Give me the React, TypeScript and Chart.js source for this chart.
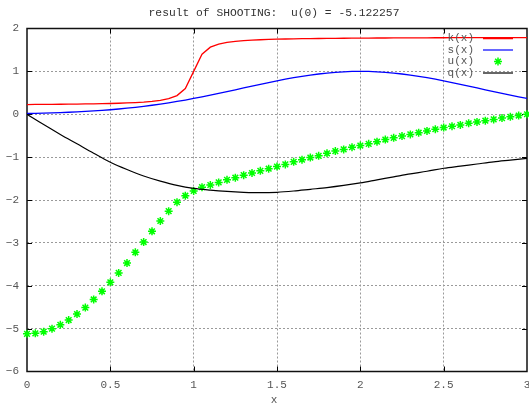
import React, { useEffect, useRef } from 'react';
import { Chart, registerables } from 'chart.js';

Chart.register(...registerables);

const TITLE = 'result of SHOOTING:  u(0) = -5.122257';
const X_LABEL = 'x';
const SERIES_NAMES = ['k(x)', 's(x)', 'u(x)', 'q(x)'];
const SERIES_COLORS = ['#ff0000', '#0000ff', '#00ff00', '#000000'];

const X_TICKS = [0, 0.5, 1, 1.5, 2, 2.5, 3];
const X_TICK_LABELS = ['0', '0.5', '1', '1.5', '2', '2.5', '3'];

const xFine = [
  0, 0.05, 0.1, 0.15, 0.2, 0.25, 0.3, 0.35, 0.4, 0.45,
  0.5, 0.55, 0.6, 0.65, 0.7, 0.75, 0.8, 0.85, 0.9, 0.95,
  1.0, 1.05, 1.1, 1.15, 1.2, 1.25, 1.3, 1.35, 1.4, 1.45,
  1.5, 1.55, 1.6, 1.65, 1.7, 1.75, 1.8, 1.85, 1.9, 1.95,
  2.0, 2.05, 2.1, 2.15, 2.2, 2.25, 2.3, 2.35, 2.4, 2.45,
  2.5, 2.55, 2.6, 2.65, 2.7, 2.75, 2.8, 2.85, 2.9, 2.95, 3.0,
];

const kValues = [
  0.226, 0.228, 0.229, 0.231, 0.233, 0.235, 0.237, 0.240, 0.243, 0.247,
  0.251, 0.256, 0.263, 0.272, 0.284, 0.301, 0.325, 0.364, 0.436, 0.600,
  1.000, 1.401, 1.565, 1.637, 1.676, 1.700, 1.717, 1.729, 1.738, 1.745,
  1.750, 1.755, 1.759, 1.762, 1.765, 1.767, 1.769, 1.771, 1.773, 1.774,
  1.776, 1.777, 1.778, 1.779, 1.780, 1.781, 1.782, 1.782, 1.783, 1.784,
  1.784, 1.785, 1.785, 1.786, 1.786, 1.787, 1.787, 1.787, 1.788, 1.788, 1.788,
];

const sValues = [
  0.018, 0.022, 0.027, 0.033, 0.039, 0.047, 0.056, 0.066, 0.077, 0.091,
  0.105, 0.122, 0.141, 0.162, 0.185, 0.210, 0.237, 0.267, 0.298, 0.332,
  0.368, 0.406, 0.445, 0.486, 0.527, 0.570, 0.613, 0.655, 0.698, 0.739,
  0.779, 0.817, 0.852, 0.885, 0.914, 0.939, 0.961, 0.978, 0.990, 0.998,
  1.000, 0.998, 0.990, 0.978, 0.961, 0.939, 0.914, 0.885, 0.852, 0.817,
  0.779, 0.739, 0.698, 0.655, 0.613, 0.570, 0.527, 0.486, 0.445, 0.406, 0.368,
];

const uValues = [
  -5.122, -5.11, -5.07, -5.00, -4.91, -4.80, -4.66, -4.51, -4.32, -4.13,
  -3.92, -3.70, -3.47, -3.22, -2.98, -2.73, -2.49, -2.26, -2.05, -1.90,
  -1.79, -1.70, -1.65, -1.59, -1.53, -1.48, -1.42, -1.37, -1.32, -1.27,
  -1.22, -1.17, -1.11, -1.06, -1.01, -0.97, -0.91, -0.86, -0.82, -0.77,
  -0.73, -0.69, -0.64, -0.59, -0.55, -0.51, -0.47, -0.43, -0.39, -0.35,
  -0.31, -0.28, -0.25, -0.21, -0.18, -0.15, -0.12, -0.09, -0.06, -0.03, 0.0,
];

const xCoarse = [
  0, 0.1, 0.2, 0.3, 0.4, 0.5, 0.6, 0.7, 0.8, 0.9,
  1.0, 1.1, 1.2, 1.3, 1.4, 1.5, 1.6, 1.7, 1.8, 1.9,
  2.0, 2.1, 2.2, 2.3, 2.4, 2.5, 2.6, 2.7, 2.8, 2.9, 3.0,
];

const qValues = [
  0, -0.24, -0.47, -0.69, -0.91, -1.12, -1.29, -1.44, -1.56, -1.66,
  -1.73, -1.77, -1.80, -1.82, -1.83, -1.82, -1.79, -1.75, -1.71, -1.66,
  -1.60, -1.53, -1.46, -1.39, -1.33, -1.26, -1.21, -1.16, -1.11, -1.07, -1.03,
];

const X_MIN = 0, X_MAX = 3, X_STEP = 0.5;
const Y_MIN = -6, Y_MAX = 2, Y_STEP = 1;

const FONT = "'Liberation Mono', 'DejaVu Sans Mono', monospace";
const TEXT_COLOR = '#555555';

const toPts = (xs: number[], ys: number[]) => xs.map((x, i) => ({ x, y: ys[i] }));

const decorPlugin = {
  id: 'gnuplotDecor',
  beforeDatasetsDraw(chart: any) {
    const { ctx, chartArea } = chart;
    const { left, right, top, bottom } = chartArea;
    const xs = chart.scales.x;
    const ys = chart.scales.y;
    ctx.save();
    ctx.strokeStyle = '#000';
    ctx.lineWidth = 1;
    const tl = 5;
    ctx.beginPath();
    for (let v = X_MIN + X_STEP; v < X_MAX - 1e-9; v += X_STEP) {
      const px = Math.round(xs.getPixelForValue(v)) + 0.5;
      ctx.moveTo(px, top); ctx.lineTo(px, top + tl);
      ctx.moveTo(px, bottom); ctx.lineTo(px, bottom - tl);
    }
    for (let v = Y_MIN + Y_STEP; v < Y_MAX - 1e-9; v += Y_STEP) {
      const py = Math.round(ys.getPixelForValue(v)) + 0.5;
      ctx.moveTo(left, py); ctx.lineTo(left + tl, py);
      ctx.moveTo(right, py); ctx.lineTo(right - tl, py);
    }
    ctx.stroke();
    ctx.lineWidth = 1.5;
    ctx.strokeStyle = '#111';
    ctx.strokeRect(left, top, right - left, bottom - top);
    ctx.restore();
  },
  afterDraw(chart: any) {
    const { ctx } = chart;
    const xs = chart.scales.x;
    ctx.save();
    // title
    ctx.font = `11.3px ${FONT}`;
    ctx.fillStyle = '#333';
    ctx.textAlign = 'center';
    ctx.textBaseline = 'alphabetic';
    ctx.fillText(TITLE, 274, 16);
    // x tick labels
    ctx.font = `11px ${FONT}`;
    ctx.fillStyle = TEXT_COLOR;
    X_TICKS.forEach((v, i) => {
      ctx.fillText(X_TICK_LABELS[i], xs.getPixelForValue(v), 387.5);
    });
    // x axis label
    ctx.fillText(X_LABEL, 274, 403);
    // legend
    const textRight = 474;
    const sampleL = 483, sampleR = 513;
    const rowY = [38.5, 50, 61.5, 73];
    ctx.textAlign = 'right';
    ctx.textBaseline = 'middle';
    SERIES_NAMES.forEach((name, i) => {
      ctx.fillStyle = TEXT_COLOR;
      ctx.fillText(name, textRight, rowY[i]);
      if (i === 2) {
        const cx = (sampleL + sampleR) / 2, cy = rowY[i];
        const r = 4;
        ctx.strokeStyle = SERIES_COLORS[i];
        ctx.lineWidth = 1.5;
        ctx.beginPath();
        ctx.moveTo(cx - r, cy); ctx.lineTo(cx + r, cy);
        ctx.moveTo(cx, cy - r); ctx.lineTo(cx, cy + r);
        const d = r * 0.7071;
        ctx.moveTo(cx - d, cy - d); ctx.lineTo(cx + d, cy + d);
        ctx.moveTo(cx - d, cy + d); ctx.lineTo(cx + d, cy - d);
        ctx.stroke();
      } else {
        ctx.strokeStyle = SERIES_COLORS[i];
        ctx.lineWidth = i === 0 ? 1.5 : 1.2;
        ctx.beginPath();
        ctx.moveTo(sampleL, rowY[i]);
        ctx.lineTo(sampleR, rowY[i]);
        ctx.stroke();
      }
    });
    ctx.restore();
  },
};

export default function App() {
  const ref = useRef<HTMLCanvasElement | null>(null);

  useEffect(() => {
    if (!ref.current) return;
    Chart.defaults.font.family = FONT;
    const gridColor = (c: any) => {
      const v = c.tick?.value;
      const s = c.scale;
      if (v === undefined) return 'transparent';
      if (Math.abs(v - s.min) < 1e-9 || Math.abs(v - s.max) < 1e-9) return 'transparent';
      return '#9a9a9a';
    };
    const chart = new Chart(ref.current, {
      type: 'line',
      data: {
        datasets: [
          {
            label: SERIES_NAMES[0],
            data: toPts(xFine, kValues),
            borderColor: SERIES_COLORS[0],
            borderWidth: 1.3,
            pointRadius: 0,
            tension: 0,
            order: 4,
          },
          {
            label: SERIES_NAMES[1],
            data: toPts(xFine, sValues),
            borderColor: SERIES_COLORS[1],
            borderWidth: 1.3,
            pointRadius: 0,
            tension: 0,
            order: 3,
          },
          {
            label: SERIES_NAMES[2],
            data: toPts(xFine, uValues),
            borderColor: SERIES_COLORS[2],
            backgroundColor: SERIES_COLORS[2],
            showLine: false,
            pointStyle: 'star',
            pointRadius: 4,
            pointBorderWidth: 1.5,
            clip: false,
            order: 2,
          },
          {
            label: SERIES_NAMES[3],
            data: toPts(xCoarse, qValues),
            borderColor: SERIES_COLORS[3],
            borderWidth: 1.2,
            pointRadius: 0,
            cubicInterpolationMode: 'monotone',
            order: 1,
          },
        ],
      },
      options: {
        animation: false,
        responsive: false,
        devicePixelRatio: 1,
        layout: { autoPadding: false, padding: { top: 28.5, right: 2, bottom: 0, left: 0 } },
        plugins: {
          legend: { display: false },
          title: { display: false },
          tooltip: { enabled: false },
        },
        scales: {
          x: {
            type: 'linear',
            min: X_MIN,
            max: X_MAX,
            ticks: { display: false, stepSize: X_STEP },
            grid: { color: gridColor, lineWidth: 1, drawTicks: false },
            border: { display: false, dash: [2, 2] },
            afterFit: (s: any) => {
              s.height = 32.5;
              s.paddingLeft = 0;
              s.paddingRight = 0;
            },
          },
          y: {
            type: 'linear',
            min: Y_MIN,
            max: Y_MAX,
            ticks: {
              stepSize: Y_STEP,
              padding: 8,
              color: TEXT_COLOR,
              font: { size: 11, family: FONT },
              callback: (v: any) => (Number(v) < 0 ? '\u2212' + Math.abs(Number(v)) : String(v)),
            },
            grid: { color: gridColor, lineWidth: 1, drawTicks: false },
            border: { display: false, dash: [2, 2] },
            afterFit: (s: any) => {
              s.width = 27;
              s.paddingTop = 0;
              s.paddingBottom = 0;
            },
          },
        },
      },
      plugins: [decorPlugin],
    });
    return () => chart.destroy();
  }, []);

  return (
    <div style={{ position: 'absolute', left: 0, top: 0, width: 529, height: 404, background: '#fff' }}>
      <canvas ref={ref} width={529} height={404} style={{ display: 'block' }} />
    </div>
  );
}
